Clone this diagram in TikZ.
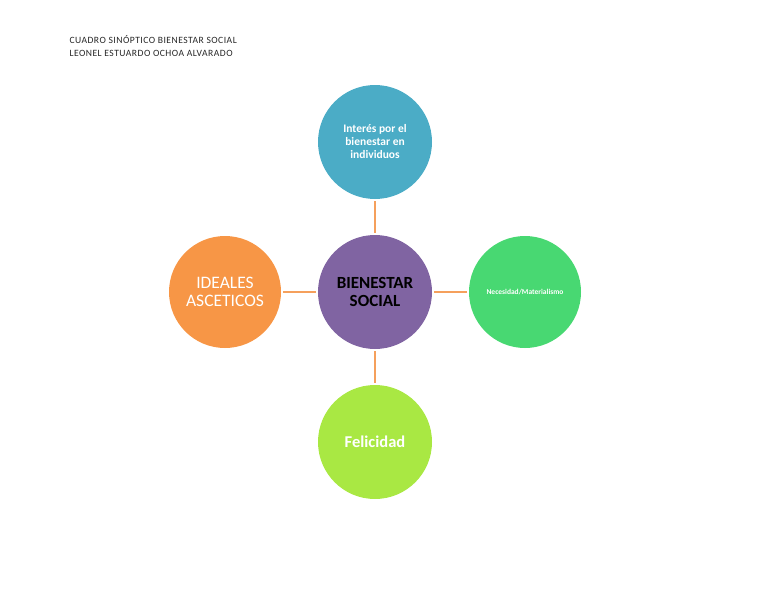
\documentclass[tikz,border=0pt]{standalone}
\usepackage{fontspec}
\setmainfont{Carlito}
\usetikzlibrary{positioning}
\definecolor{accblue}{HTML}{4BACC6}
\definecolor{accpurple}{HTML}{8064A2}
\definecolor{accorange}{HTML}{F79646}
\definecolor{accgreen}{HTML}{48D872}
\definecolor{acclime}{HTML}{A9E843}
\definecolor{linkorange}{HTML}{F5A05C}
\begin{document}
\begin{tikzpicture}[
  x=1pt,y=1pt,
  bubble/.style={circle,minimum size=114pt,inner sep=0pt,outer sep=2pt,align=center,text=white},
  link/.style={draw=linkorange,line width=1.6pt},
  head/.style={anchor=west,font=\fontsize{9.6}{11}\selectfont\addfontfeatures{LetterSpace=5},text=black!85},
]
\useasboundingbox (0,0) rectangle (768,-594);
\node[head] (t1) at (66,-40) {CUADRO SINÓPTICO BIENESTAR SOCIAL};
\node[head] (t2) at (66,-53) {LEONEL ESTUARDO OCHOA ALVARADO};

\node[bubble,fill=accpurple,text=black,font=\fontsize{17}{18}\selectfont\bfseries] (center) at (375,-292) {BIENESTAR\\SOCIAL};
\node[bubble,fill=accblue,font=\fontsize{11.5}{13}\selectfont\bfseries] (top) at (375,-142) {Interés por el\\bienestar en\\individuos};
\node[bubble,fill=accorange,minimum size=112pt,font=\fontsize{17.5}{18}\selectfont] (left) at (225,-292) {IDEALES\\ASCETICOS};
\node[bubble,fill=accgreen,minimum size=112pt,font=\fontsize{7.5}{9}\selectfont\bfseries] (right) at (525,-292) {Necesidad/Materialismo};
\node[bubble,fill=acclime,font=\fontsize{16.5}{18}\selectfont\bfseries] (bottom) at (375,-442) {Felicidad};

\draw[link] (top) -- (center);
\draw[link] (left) -- (center);
\draw[link] (center) -- (right);
\draw[link] (center) -- (bottom);
\end{tikzpicture}
\end{document}
